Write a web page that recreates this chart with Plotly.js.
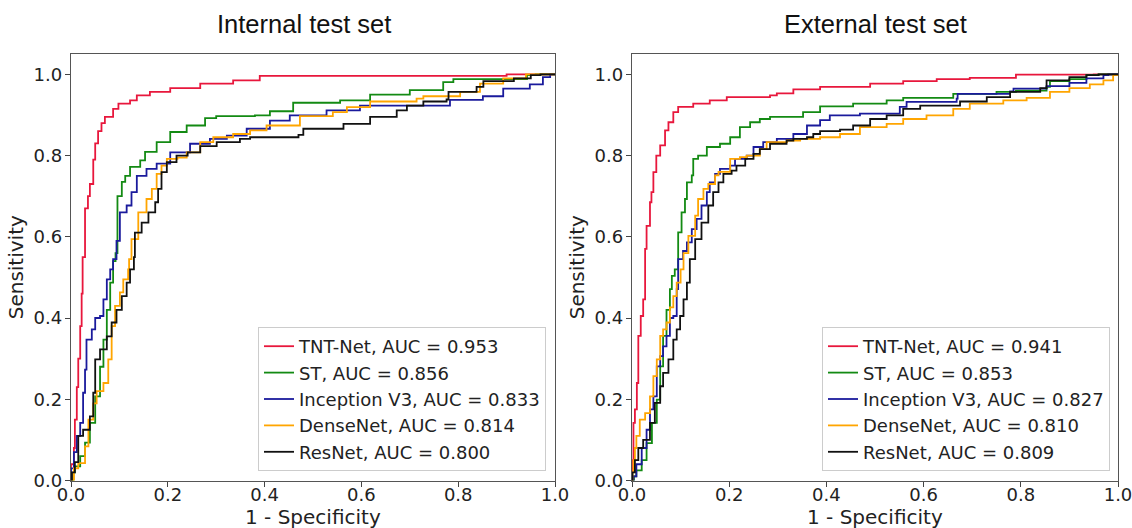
<!DOCTYPE html>
<html><head><meta charset="utf-8">
<script src="https://cdn.plot.ly/plotly-3.0.1.min.js"></script>
<style>html,body{margin:0;padding:0;background:#fff;}#chart{width:1132px;height:528px;}</style>
</head><body><div id="chart"></div>
<script>
// ---------- Internal test set ----------
const int_tnt_x = [0,0,0.006,0.008,0.012,0.015,0.019,0.022,0.024,0.029,0.035,0.039,0.046,0.05,0.056,0.063,0.07,0.087,0.098,0.122,0.136,0.163,0.205,0.267,0.335,0.39,0.9,1];
const int_tnt_y = [0,0.04,0.08,0.15,0.23,0.30,0.38,0.46,0.55,0.67,0.70,0.73,0.79,0.83,0.86,0.88,0.895,0.915,0.928,0.936,0.948,0.957,0.966,0.977,0.985,0.996,1,1];
const int_st_x = [0,0.005,0.008,0.019,0.029,0.039,0.05,0.06,0.067,0.074,0.081,0.087,0.092,0.096,0.105,0.112,0.122,0.143,0.153,0.177,0.205,0.239,0.277,0.30,0.38,0.411,0.459,0.556,0.618,0.70,0.769,0.79,0.942,0.96,1];
const int_st_y = [0,0.02,0.035,0.06,0.093,0.142,0.207,0.28,0.347,0.42,0.487,0.54,0.56,0.70,0.735,0.75,0.772,0.788,0.809,0.833,0.858,0.874,0.892,0.897,0.899,0.909,0.930,0.936,0.95,0.961,0.981,0.988,0.998,1,1];
const int_inc_x = [0,0,0.006,0.012,0.019,0.025,0.029,0.032,0.043,0.05,0.06,0.067,0.074,0.081,0.087,0.094,0.101,0.115,0.125,0.136,0.156,0.177,0.205,0.246,0.287,0.322,0.363,0.411,0.452,0.528,0.597,0.70,0.783,0.851,0.893,0.948,0.975,0.99,1];
const int_inc_y = [0,0.03,0.07,0.11,0.142,0.216,0.273,0.347,0.372,0.40,0.405,0.446,0.495,0.52,0.545,0.59,0.66,0.677,0.71,0.75,0.767,0.78,0.808,0.829,0.841,0.849,0.866,0.886,0.899,0.911,0.923,0.923,0.937,0.946,0.965,0.975,0.993,1,1];
const int_den_x = [0,0.006,0.015,0.029,0.036,0.046,0.053,0.067,0.077,0.084,0.091,0.101,0.108,0.118,0.12,0.125,0.139,0.156,0.167,0.177,0.187,0.198,0.22,0.239,0.267,0.294,0.335,0.37,0.404,0.473,0.541,0.57,0.618,0.714,0.728,0.804,0.845,0.893,0.94,1];
const int_den_y = [0,0.03,0.043,0.084,0.15,0.19,0.22,0.24,0.298,0.38,0.43,0.463,0.495,0.52,0.545,0.594,0.66,0.693,0.718,0.755,0.775,0.792,0.795,0.808,0.833,0.845,0.853,0.862,0.874,0.897,0.907,0.919,0.933,0.94,0.946,0.957,0.977,0.99,1,1];
const int_res_x = [0,0.002,0.008,0.015,0.025,0.039,0.046,0.05,0.06,0.074,0.084,0.094,0.105,0.115,0.122,0.13,0.132,0.146,0.16,0.174,0.18,0.187,0.198,0.218,0.241,0.267,0.301,0.349,0.37,0.47,0.48,0.563,0.618,0.673,0.694,0.728,0.776,0.78,0.838,0.852,0.915,0.95,0.97,1];
const int_res_y = [0,0.02,0.045,0.11,0.125,0.158,0.216,0.298,0.323,0.355,0.389,0.42,0.454,0.487,0.52,0.55,0.61,0.635,0.66,0.685,0.718,0.759,0.784,0.80,0.808,0.823,0.833,0.841,0.845,0.851,0.866,0.878,0.895,0.911,0.923,0.933,0.938,0.957,0.969,0.983,0.99,0.998,1,1];

// ---------- External test set ----------
const ext_tnt_x = [0,0,0.002,0.003,0.006,0.01,0.013,0.018,0.023,0.027,0.03,0.037,0.04,0.044,0.05,0.058,0.068,0.075,0.085,0.095,0.126,0.16,0.195,0.284,0.298,0.332,0.387,0.49,0.558,0.627,0.695,0.79,0.95,1];
const ext_tnt_y = [0,0.03,0.05,0.142,0.175,0.24,0.356,0.405,0.446,0.57,0.627,0.685,0.71,0.759,0.80,0.825,0.862,0.882,0.907,0.92,0.928,0.936,0.944,0.948,0.953,0.963,0.969,0.977,0.983,0.988,0.991,0.999,1,1];
const ext_st_x = [0,0.004,0.009,0.02,0.03,0.041,0.051,0.058,0.064,0.071,0.078,0.082,0.088,0.095,0.095,0.102,0.109,0.113,0.123,0.126,0.136,0.154,0.181,0.202,0.222,0.243,0.263,0.284,0.33,0.352,0.387,0.455,0.524,0.558,0.661,0.75,0.79,0.853,0.86,0.90,0.935,0.96,1];
const ext_st_y = [0,0.01,0.025,0.05,0.092,0.142,0.199,0.281,0.356,0.42,0.471,0.504,0.52,0.57,0.611,0.66,0.693,0.734,0.751,0.792,0.80,0.821,0.829,0.845,0.87,0.882,0.89,0.895,0.895,0.907,0.921,0.928,0.936,0.942,0.952,0.957,0.96,0.969,0.983,0.988,0.998,1,1];
const ext_inc_x = [0,0.003,0.009,0.02,0.03,0.037,0.044,0.051,0.058,0.064,0.071,0.078,0.085,0.092,0.095,0.105,0.113,0.123,0.133,0.143,0.154,0.16,0.171,0.181,0.202,0.212,0.236,0.25,0.27,0.298,0.332,0.36,0.387,0.407,0.469,0.551,0.565,0.668,0.67,0.778,0.785,0.853,0.90,0.935,0.97,0.98,1];
const ext_inc_y = [0,0.01,0.04,0.08,0.125,0.175,0.207,0.281,0.306,0.33,0.356,0.40,0.405,0.471,0.545,0.565,0.586,0.619,0.644,0.677,0.71,0.734,0.755,0.767,0.775,0.792,0.80,0.821,0.833,0.841,0.853,0.874,0.887,0.899,0.903,0.92,0.932,0.94,0.952,0.958,0.965,0.971,0.979,0.99,0.998,1,1];
const ext_den_x = [0,0.001,0.003,0.006,0.009,0.016,0.027,0.037,0.044,0.051,0.058,0.064,0.071,0.078,0.085,0.092,0.1,0.106,0.116,0.13,0.136,0.147,0.157,0.171,0.178,0.202,0.222,0.236,0.263,0.277,0.319,0.346,0.387,0.428,0.469,0.524,0.558,0.606,0.661,0.695,0.764,0.812,0.86,0.90,0.942,0.97,0.99,1];
const ext_den_y = [0,0.02,0.05,0.08,0.11,0.15,0.166,0.207,0.257,0.298,0.356,0.372,0.389,0.426,0.454,0.487,0.52,0.56,0.602,0.652,0.693,0.718,0.73,0.751,0.76,0.792,0.796,0.80,0.816,0.833,0.837,0.841,0.845,0.853,0.87,0.878,0.89,0.899,0.915,0.928,0.936,0.942,0.957,0.966,0.975,0.985,0.998,1];
const ext_res_x = [0,0.001,0.006,0.013,0.023,0.037,0.047,0.058,0.064,0.075,0.085,0.092,0.099,0.106,0.113,0.119,0.13,0.143,0.157,0.167,0.178,0.188,0.205,0.215,0.233,0.25,0.263,0.284,0.318,0.332,0.36,0.373,0.387,0.428,0.455,0.49,0.524,0.558,0.593,0.675,0.73,0.778,0.84,0.853,0.90,0.935,0.96,1];
const ext_res_y = [0,0.02,0.05,0.08,0.10,0.142,0.191,0.232,0.265,0.298,0.347,0.372,0.405,0.446,0.487,0.545,0.594,0.635,0.677,0.71,0.734,0.755,0.763,0.775,0.792,0.804,0.816,0.829,0.837,0.841,0.845,0.853,0.86,0.864,0.874,0.89,0.899,0.915,0.923,0.933,0.944,0.957,0.966,0.985,0.993,0.998,1,1];

const int_names = ["TNT-Net, AUC = 0.953","ST, AUC = 0.856","Inception V3, AUC = 0.833","DenseNet, AUC = 0.814","ResNet, AUC = 0.800"];
const ext_names = ["TNT-Net, AUC = 0.941","ST, AUC = 0.853","Inception V3, AUC = 0.827","DenseNet, AUC = 0.810","ResNet, AUC = 0.809"];
const panel_titles = ["Internal test set","External test set"];
const x_title = "1 - Specificity";
const y_title = "Sensitivity";
const colors = ["#e8173c","#138a13","#1a1a9c","#ffa500","#111111"];

const intX = [int_tnt_x,int_st_x,int_inc_x,int_den_x,int_res_x];
const intY = [int_tnt_y,int_st_y,int_inc_y,int_den_y,int_res_y];
const extX = [ext_tnt_x,ext_st_x,ext_inc_x,ext_den_x,ext_res_x];
const extY = [ext_tnt_y,ext_st_y,ext_inc_y,ext_den_y,ext_res_y];

const traces = [];
for (let i=0;i<5;i++){
  traces.push({x:intX[i],y:intY[i],name:int_names[i],type:'scatter',mode:'lines',line:{color:colors[i],width:1.8,shape:'hv'},xaxis:'x',yaxis:'y',legend:'legend'});
}
for (let i=0;i<5;i++){
  traces.push({x:extX[i],y:extY[i],name:ext_names[i],type:'scatter',mode:'lines',line:{color:colors[i],width:1.8,shape:'hv'},xaxis:'x2',yaxis:'y2',legend:'legend2'});
}

const FONT = 'DejaVu Sans, sans-serif';
const TFONT = 'Liberation Sans, Arial, sans-serif';
const tickFont = {family:FONT,size:18,color:'#222'};
function xa(dom, anchor){ return {domain:dom,anchor:anchor,range:[0,1],tickvals:[0,0.2,0.4,0.6,0.8,1.0],tickformat:'.1f',ticks:'outside',ticklen:5,tickcolor:'#444',ticklabelstandoff:-7,ticklabeloverflow:'allow',showline:true,linecolor:'#555',linewidth:1.2,mirror:true,showgrid:false,zeroline:false,tickfont:tickFont,automargin:false}; }
function ya(dom, anchor){ return {domain:dom,anchor:anchor,range:[0,1.05],tickvals:[0,0.2,0.4,0.6,0.8,1.0],tickformat:'.1f',ticks:'outside',ticklen:5,tickcolor:'#444',ticklabelstandoff:-1,ticklabeloverflow:'allow',showline:true,linecolor:'#555',linewidth:1.2,mirror:true,showgrid:false,zeroline:false,tickfont:tickFont,automargin:false,
  title:{text:y_title,font:{family:FONT,size:20,color:'#222'},standoff:4}}; }

const yd = [(528-480.5)/528,(528-54)/528];
const legendCommon = {font:{family:FONT,size:18,color:'#222'},bgcolor:'rgba(255,255,255,0.9)',bordercolor:'#cccccc',borderwidth:1,xanchor:'right',yanchor:'bottom',tracegroupgap:0};
const layout = {
  width:1132,height:528,margin:{l:0,r:0,t:0,b:0},paper_bgcolor:'#fff',plot_bgcolor:'#fff',
  xaxis:xa([71/1132,555/1132],'y'), yaxis:ya(yd,'x'),
  xaxis2:xa([632/1132,1118/1132],'y2'), yaxis2:ya(yd,'x2'),
  showlegend:true,
  legend:Object.assign({x:546/1132,y:(528-471)/528},legendCommon),
  legend2:Object.assign({x:1110/1132,y:(528-471)/528},legendCommon),
  annotations:[
    {text:panel_titles[0],xref:'paper',yref:'paper',x:304/1132,y:(528-24)/528,xanchor:'center',yanchor:'middle',showarrow:false,font:{family:TFONT,size:25.5,color:'#111'}},
    {text:panel_titles[1],xref:'paper',yref:'paper',x:875/1132,y:(528-24)/528,xanchor:'center',yanchor:'middle',showarrow:false,font:{family:TFONT,size:25.5,color:'#111'}},
    {text:x_title,xref:'x domain',yref:'paper',x:0.5,y:(528-504)/528,xanchor:'center',yanchor:'top',showarrow:false,borderpad:0,font:{family:FONT,size:20,color:'#222'}},
    {text:x_title,xref:'x2 domain',yref:'paper',x:0.5,y:(528-504)/528,xanchor:'center',yanchor:'top',showarrow:false,borderpad:0,font:{family:FONT,size:20,color:'#222'}}
  ]
};
Plotly.newPlot('chart',traces,layout,{displayModeBar:false,staticPlot:true});
</script></body></html>
